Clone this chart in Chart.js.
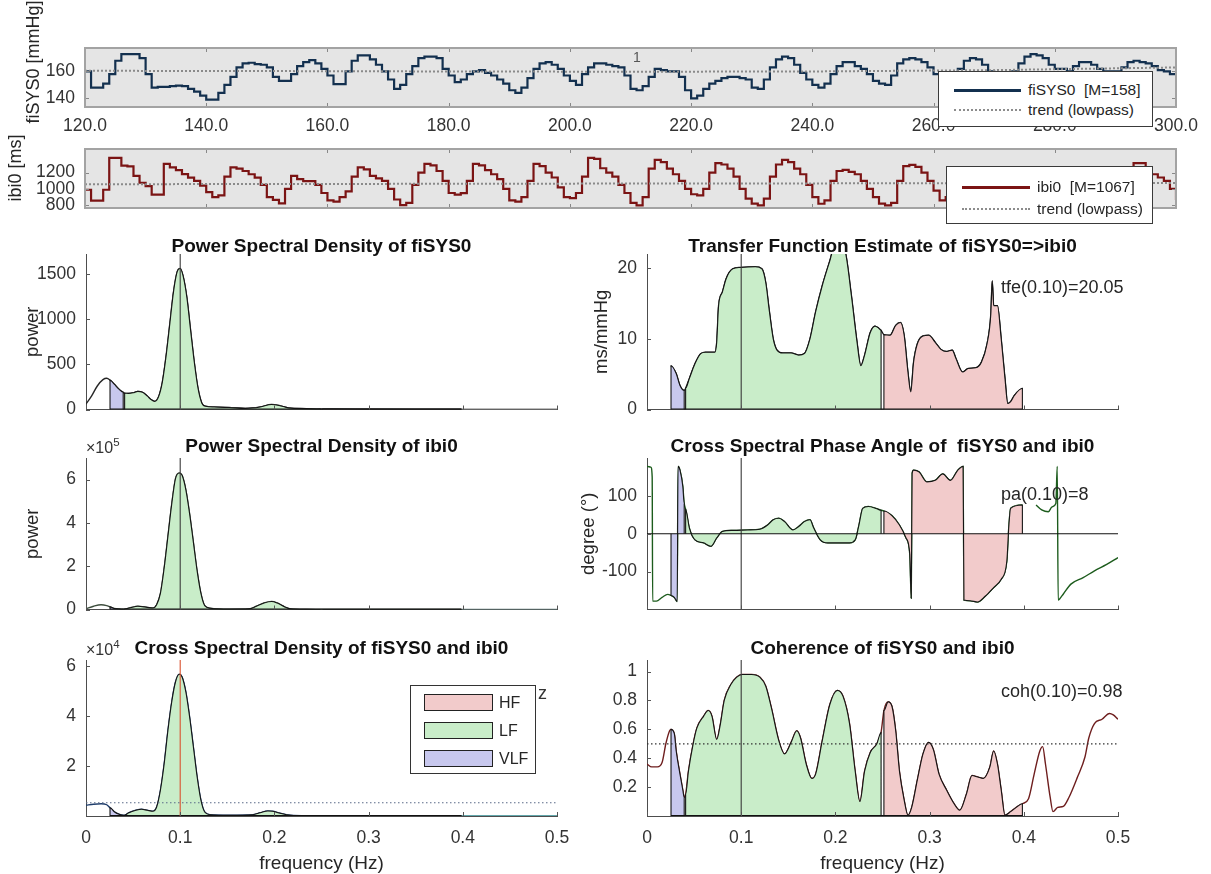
<!DOCTYPE html>
<html><head><meta charset="utf-8">
<script src="https://cdn.jsdelivr.net/npm/chart.js@4.4.1/dist/chart.umd.min.js"></script>
<style>
html,body{margin:0;padding:0;background:#fff;}
body{position:relative;width:1211px;height:874px;overflow:hidden;font-family:"Liberation Sans",Arial,Helvetica,sans-serif;color:#262626;}
canvas{position:absolute;}
.tx{position:absolute;white-space:pre;line-height:1;transform:translateY(-50%);z-index:4;}
.ttl{position:absolute;white-space:pre;font-weight:bold;font-size:19px;color:#111;transform:translate(-50%,-50%);line-height:1;z-index:4;}
.rot{position:absolute;white-space:pre;font-size:18px;transform:translate(-50%,-50%) rotate(-90deg);line-height:1;z-index:4;}
.lg{position:absolute;background:#fff;border:1px solid #3a3a3a;box-sizing:border-box;z-index:5;}
.lg .s{position:absolute;box-sizing:border-box;}
.lg .l{position:absolute;font-size:15.5px;white-space:pre;transform:translateY(-50%);line-height:1;}
</style></head><body>
<canvas id="cSys"></canvas>
<canvas id="cIbi"></canvas>
<canvas id="cPsdSys"></canvas>
<canvas id="cPsdIbi"></canvas>
<canvas id="cCsd"></canvas>
<canvas id="cTfe"></canvas>
<canvas id="cPha"></canvas>
<canvas id="cCoh"></canvas>

<div class="rot" style="left:33px;top:62px">fiSYS0 [mmHg]</div>
<div class="rot" style="left:15px;top:168px">ibi0 [ms]</div>
<div class="tx" style="left:633px;top:57px;font-size:14px;color:#555">1</div>

<div class="lg" style="left:938px;top:71px;width:215px;height:56px">
  <div class="s" style="left:15px;top:17px;width:67px;border-top:3px solid #13304f"></div>
  <div class="l" style="left:89px;top:18px">fiSYS0  [M=158]</div>
  <div class="s" style="left:15px;top:37px;width:67px;border-top:2px dotted #8c8c8c"></div>
  <div class="l" style="left:89px;top:38px">trend (lowpass)</div>
</div>
<div class="lg" style="left:946px;top:166px;width:207px;height:58px">
  <div class="s" style="left:15px;top:19px;width:68px;border-top:3px solid #7b1414"></div>
  <div class="l" style="left:90px;top:20px">ibi0  [M=1067]</div>
  <div class="s" style="left:15px;top:41px;width:68px;border-top:2px dotted #8c8c8c"></div>
  <div class="l" style="left:90px;top:42px">trend (lowpass)</div>
</div>

<div class="ttl" style="left:321.5px;top:245px">Power Spectral Density of fiSYS0</div>
<div class="ttl" style="left:882.5px;top:245px">Transfer Function Estimate of fiSYS0=&gt;ibi0</div>
<div class="ttl" style="left:321.5px;top:445px">Power Spectral Density of ibi0</div>
<div class="ttl" style="left:882.5px;top:445px">Cross Spectral Phase Angle of  fiSYS0 and ibi0</div>
<div class="ttl" style="left:321.5px;top:647px">Cross Spectral Density of fiSYS0 and ibi0</div>
<div class="ttl" style="left:882.5px;top:647px">Coherence of fiSYS0 and ibi0</div>

<div class="tx" style="left:86px;top:448px;font-size:16px;color:#333">×10<span style="font-size:11.5px;position:relative;top:-7px">5</span></div>
<div class="tx" style="left:86px;top:650px;font-size:16px;color:#333">×10<span style="font-size:11.5px;position:relative;top:-7px">4</span></div>
<div class="tx" style="left:538px;top:693px;font-size:18px;color:#333">z</div>

<div class="tx" style="left:1001px;top:287px;font-size:18px">tfe(0.10)=20.05</div>
<div class="tx" style="left:1001px;top:494px;font-size:18px">pa(0.10)=8</div>
<div class="tx" style="left:1001px;top:691px;font-size:18px">coh(0.10)=0.98</div>

<div class="lg" style="left:410px;top:685px;width:126px;height:89px;border-color:#333">
  <div class="s" style="left:13px;top:8px;width:69px;height:17px;background:#F2CBCB;border:1px solid #222"></div>
  <div class="l" style="left:88px;top:16.5px;font-size:16px">HF</div>
  <div class="s" style="left:13px;top:36px;width:69px;height:17px;background:#C9EDC9;border:1px solid #222"></div>
  <div class="l" style="left:88px;top:44.5px;font-size:16px">LF</div>
  <div class="s" style="left:13px;top:64px;width:69px;height:17px;background:#C8C8EE;border:1px solid #222"></div>
  <div class="l" style="left:88px;top:72.5px;font-size:16px">VLF</div>
</div>

<script>
// ---------------- DATA ----------------
const timeTicks = [120,140,160,180,200,220,240,260,280,300];
const sysYTicks = [140,160];
const ibiYTicks = [800,1000,1200];

const seriesTime = [
120,121,122,123,124,125,126,127,128,129,
130,131,132,133,134,135,136,137,138,139,
140,141,142,143,144,145,146,147,148,149,
150,151,152,153,154,155,156,157,158,159,
160,161,162,163,164,165,166,167,168,169,
170,171,172,173,174,175,176,177,178,179,
180,181,182,183,184,185,186,187,188,189,
190,191,192,193,194,195,196,197,198,199,
200,201,202,203,204,205,206,207,208,209,
210,211,212,213,214,215,216,217,218,219,
220,221,222,223,224,225,226,227,228,229,
230,231,232,233,234,235,236,237,238,239,
240,241,242,243,244,245,246,247,248,249,
250,251,252,253,254,255,256,257,258,259,
260,261,262,263,264,265,266,267,268,269,
270,271,272,273,274,275,276,277,278,279,
280,281,282,283,284,285,286,287,288,289,
290,291,292,293,294,295,296,297,298,299,
300];

const sysValues = [
160,148,148,151,158,168,173,173,173,170,
158,148,148.5,148.5,149,149.5,149,147,145,142,
139,139,144,150,156,163,166,166.5,165.5,165,
163,156,153,153,158,164,167,168.5,166,162,
157,150.5,150.5,160,168,172,172,169,165,160,
154,147,150,158,164,170,171,171,170,162,
157,152,154,158,160,161,159,157,154,151,
146,144,148,155,162,166,167,165,162,157,
153,150,158,163,166,166,165,164,163,157,
147,146,149,156,162,161,160,160,156,146,
140,142,147,151,153,155,156,156,155,154,
148,147,154,163,169,171,170,165,159,154,
150,148,151,158,164,167,167,164,162,158,
153,151,150,157,166,169,170,169,167,163,
158,152,150,155,162,168,170,169,165,160,
156,152,154,160,166,171,173,172,170,165,
162,162,160,164,167,167,165,162,160,160,
160,163,167,168,167,166,164,161,160,158,
158];

const ibiValues = [
990,857,857,990,1380,1380,1286,1278,1160,1076,
1034,930,930,1307,1265,1230,1181,1139,1100,1040,
960,899,920,1150,1265,1250,1220,1180,1139,1050,
900,865,823,1000,1160,1120,1097,1097,1050,950,
860,844,900,970,1150,1265,1240,1160,1130,1100,
1000,870,802,830,1050,1200,1307,1290,1220,1100,
950,930,949,1100,1307,1290,1230,1180,1120,1000,
860,844,900,1100,1307,1280,1200,1140,1020,900,
886,950,1150,1380,1370,1254,1200,1150,1050,950,
830,797,900,1250,1357,1330,1250,1180,1100,1000,
935,922,1000,1200,1316,1300,1250,1150,1000,880,
820,797,880,1150,1300,1357,1330,1250,1180,1050,
900,818,860,1100,1220,1233,1210,1180,1100,1000,
900,820,797,830,1100,1280,1295,1270,1200,1100,
980,860,900,1150,1250,1230,1150,1050,930,880,
950,1100,1180,1220,1250,1230,1140,1020,900,870,
950,1080,1180,1220,1250,1180,1080,960,880,900,
1000,1150,1250,1316,1316,1250,1180,1140,1100,1000,
860];

const trendTime = [120,150,180,210,240,270,300];
const sysTrend = [160.5,160.3,160,159.8,160,161,163];
const ibiTrend = [1058,1060,1063,1066,1068,1070,1072];

// spectral data
const freqTicks = [0,0.1,0.2,0.3,0.4,0.5];
const bands = {VLF:[0.0255,0.0395], LF:[0.041,0.2485], HF:[0.2515,0.3985]};
const bandColors = {HF:'#F2CBCB', LF:'#C9EDC9', VLF:'#C8C8EE'};
const markerFreq = 0.1;

const psdSysFreq = [0,0.006,0.012,0.018,0.022,0.0255,0.030,0.035,0.0395,0.041,0.045,0.050,0.055,0.060,0.065,0.069,0.073,0.077,0.081,0.085,0.089,0.093,0.097,0.100,0.103,0.107,0.111,0.115,0.119,0.123,0.127,0.136,0.152,0.169,0.185,0.197,0.205,0.215,0.234,0.2485,0.2515,0.262,0.300,0.350,0.3985,0.450,0.500];
const psdSysPower = [60,150,260,330,345,325,280,225,190,180,178,185,200,190,150,110,90,140,300,590,950,1310,1530,1560,1480,1245,880,520,230,70,36,28,22,12,28,55,45,18,10,6,6,5,4,3,2,2,2];
const psdSysTicks = [0,500,1000,1500];

const psdIbiFreq = [0,0.008,0.016,0.022,0.0255,0.030,0.035,0.0395,0.041,0.047,0.055,0.065,0.071,0.075,0.079,0.083,0.087,0.091,0.095,0.099,0.102,0.106,0.110,0.114,0.118,0.122,0.126,0.132,0.152,0.173,0.181,0.189,0.197,0.203,0.211,0.217,0.234,0.2485,0.2515,0.300,0.3985,0.450,0.500];
const psdIbiPower = [3000,15000,22000,18000,12000,5000,2000,1000,2000,8000,15000,10000,7000,22000,74000,192000,339000,487000,605000,631000,620000,553000,442000,310000,177000,74000,18000,6000,1500,3000,15000,30000,37000,30000,12000,3000,500,300,300,200,100,100,100];
const psdIbiTicks = [0,200000,400000,600000];

const csdFreq = [0,0.008,0.016,0.022,0.0255,0.030,0.035,0.0395,0.041,0.045,0.053,0.059,0.065,0.071,0.075,0.079,0.083,0.087,0.091,0.095,0.099,0.102,0.106,0.110,0.114,0.118,0.122,0.126,0.132,0.152,0.177,0.185,0.193,0.198,0.205,0.217,0.234,0.2485,0.2515,0.300,0.3985,0.450,0.500];
const csdValues = [4300,4700,4900,4500,3300,1700,700,300,300,1200,2300,2700,2300,1900,3600,10300,20900,34300,45600,53600,56700,55600,49600,39600,27600,15600,6300,1600,500,300,500,1300,2000,1900,1200,300,100,100,100,50,30,30,30];
const csdTicks = [20000,40000,60000];
const csdThreshold = 5300;

const tfeFreq = [0.0255,0.031,0.035,0.0395,0.041,0.045,0.051,0.057,0.062,0.072,0.074,0.076,0.080,0.084,0.091,0.099,0.115,0.122,0.126,0.130,0.134,0.138,0.144,0.153,0.161,0.167,0.173,0.179,0.186,0.194,0.200,0.206,0.211,0.217,0.223,0.227,0.231,0.237,0.242,0.246,0.2485,0.2515,0.258,0.264,0.269,0.273,0.277,0.280,0.283,0.287,0.293,0.299,0.306,0.312,0.318,0.324,0.328,0.335,0.341,0.349,0.355,0.361,0.365,0.3665,0.368,0.372,0.376,0.380,0.383,0.386,0.390,0.3985];
const tfeGain = [6.2,5.1,3.4,2.7,3.0,4.4,6.5,7.9,8.1,8.1,9.5,14.7,16.6,18.5,19.9,20.1,20.2,19.9,18.0,13.8,10.0,8.4,8.0,8.0,7.7,7.9,10.0,13.8,17.5,21.0,23.5,23.5,22.0,16.1,9.5,6.2,7.7,10.9,11.8,11.5,11.2,10.6,10.5,11.9,12.3,10.5,5.3,2.5,6.7,9.3,10.4,10.5,9.5,8.5,8.2,8.4,7.2,5.3,5.8,5.9,6.7,9.3,13.5,18.2,14.7,14.7,10.0,4.4,0.85,1.1,2.0,3.0];
const tfeTicks = [0,10,20];

const phaseFreq = [0,0.004,0.0055,0.006,0.010,0.016,0.022,0.0255,0.029,0.031,0.032,0.033,0.035,0.038,0.0395,0.041,0.045,0.051,0.060,0.068,0.074,0.080,0.091,0.107,0.120,0.128,0.134,0.140,0.146,0.155,0.161,0.167,0.173,0.177,0.184,0.192,0.215,0.221,0.225,0.229,0.235,0.244,0.2485,0.2515,0.260,0.268,0.275,0.279,0.2805,0.2815,0.283,0.289,0.297,0.306,0.314,0.322,0.330,0.3355,0.3365,0.343,0.351,0.359,0.368,0.376,0.382,0.384,0.386,0.3985,0.405,0.413,0.419,0.426,0.430,0.434,0.4355,0.4365,0.438,0.442,0.450,0.463,0.475,0.488,0.500];
const phaseDeg = [178,176,150,-178,-178,-168,-160,-163,-168,-176,-179,178,168,125,80,65,15,-16,-24,-33,-11,6,9,10,12,23,37,41,32,10,19,32,37,15,-16,-24,-24,-16,23,67,72,66,62,60,48,23,-11,-55,-170,160,168,163,137,141,158,141,168,178,-175,-177,-180,-165,-142,-120,-72,15,67,76,null,76,63,58,71,80,178,-175,-172,-159,-133,-116,-98,-81,-63];
const phaseTicks = [-100,0,100];

const cohFreq = [0,0.005,0.011,0.016,0.020,0.024,0.0255,0.029,0.031,0.035,0.038,0.0395,0.041,0.044,0.049,0.053,0.060,0.065,0.069,0.074,0.078,0.082,0.089,0.095,0.101,0.111,0.120,0.126,0.132,0.140,0.146,0.153,0.159,0.163,0.169,0.175,0.179,0.186,0.194,0.202,0.208,0.215,0.221,0.226,0.231,0.237,0.244,0.2485,0.2515,0.256,0.260,0.264,0.268,0.273,0.277,0.281,0.287,0.293,0.299,0.304,0.310,0.318,0.326,0.332,0.339,0.345,0.351,0.357,0.364,0.368,0.372,0.376,0.380,0.386,0.392,0.3985,0.405,0.411,0.417,0.420,0.423,0.428,0.431,0.436,0.442,0.448,0.457,0.465,0.469,0.475,0.483,0.491,0.495,0.500];
const cohValues = [0.36,0.34,0.34,0.37,0.50,0.59,0.60,0.57,0.45,0.29,0.18,0.13,0.15,0.31,0.50,0.61,0.69,0.73,0.69,0.53,0.64,0.80,0.91,0.96,0.98,0.98,0.96,0.90,0.75,0.52,0.43,0.51,0.59,0.54,0.36,0.26,0.29,0.52,0.77,0.87,0.83,0.64,0.31,0.10,0.31,0.44,0.50,0.58,0.73,0.79,0.76,0.59,0.31,0.11,0.005,0.06,0.25,0.43,0.51,0.46,0.29,0.18,0.085,0.04,0.15,0.28,0.27,0.26,0.34,0.45,0.36,0.18,0.005,0.03,0.06,0.085,0.12,0.29,0.45,0.48,0.36,0.13,0.03,0.06,0.067,0.13,0.27,0.41,0.54,0.64,0.67,0.71,0.70,0.67];
const cohTicks = [0.2,0.4,0.6,0.8,1];
const cohThreshold = 0.5;

// ---------------- RENDER ----------------
Chart.defaults.font.family = '"Liberation Sans", Arial, Helvetica, sans-serif';
Chart.defaults.color = '#333';

const boxPlugin = {
  id: 'boxPlugin',
  beforeDraw(chart, a, o) {
    if (!o || !o.bg) return;
    const c = chart.ctx, r = chart.chartArea;
    c.save(); c.fillStyle = o.bg; c.fillRect(r.left, r.top, r.right - r.left, r.bottom - r.top); c.restore();
  },
  afterDraw(chart, a, o) {
    if (!o || !o.frame) return;
    const c = chart.ctx, r = chart.chartArea;
    c.save(); c.strokeStyle = o.frame; c.lineWidth = o.frameWidth || 1.5;
    c.strokeRect(r.left, r.top, r.right - r.left, r.bottom - r.top); c.restore();
  }
};
const inTicks = {
  id: 'inTicks',
  afterDatasetsDraw(chart, a, o) {
    if (!o || !o.on) return;
    const c = chart.ctx, r = chart.chartArea, L = o.len || 5;
    const xs = chart.scales.x, ys = chart.scales.y;
    c.save(); c.strokeStyle = o.color || '#555'; c.lineWidth = 1; c.beginPath();
    xs.ticks.forEach(t => { const p = Math.round(xs.getPixelForValue(t.value)) + 0.5;
      c.moveTo(p, r.bottom); c.lineTo(p, r.bottom - L);
      if (o.box) { c.moveTo(p, r.top); c.lineTo(p, r.top + L); } });
    ys.ticks.forEach(t => { const p = Math.round(ys.getPixelForValue(t.value)) + 0.5;
      c.moveTo(r.left, p); c.lineTo(r.left + L, p);
      if (o.box) { c.moveTo(r.right, p); c.lineTo(r.right - L, p); } });
    c.stroke(); c.restore();
  }
};
Chart.register(boxPlugin, inTicks);

function pts(xs, ys) { return xs.map((x, i) => ({x: x, y: ys[i]})); }
function bandData(F, V, lo, hi) {
  const out = [{x: lo, y: 0}];
  for (let i = 0; i < F.length; i++) if (F[i] >= lo - 1e-9 && F[i] <= hi + 1e-9 && V[i] !== null) out.push({x: F[i], y: V[i]});
  out.push({x: hi, y: 0});
  return out;
}
function axis(min, max, tickVals, fmt, show, pad, title, borderOn) {
  return {
    type: 'linear', min: min, max: max,
    afterBuildTicks: s => { s.ticks = tickVals.map(v => ({value: v})); },
    grid: {display: false, drawTicks: false},
    border: {display: borderOn !== false, color: '#4d4d4d', width: 1},
    ticks: {display: show, padding: pad, autoSkip: false, maxRotation: 0, minRotation: 0,
            color: '#333', font: {size: 17.5}, callback: v => fmt(v)},
    title: title || {display: false}
  };
}
function mk(id, rect, area, datasets, xCfg, yCfg, plug) {
  const cv = document.getElementById(id);
  cv.width = rect.w; cv.height = rect.h;
  cv.style.left = rect.x + 'px'; cv.style.top = rect.y + 'px';
  cv.style.width = rect.w + 'px'; cv.style.height = rect.h + 'px';
  const W = area.l - rect.x, T = area.t - rect.y, R = rect.x + rect.w - area.r, H = rect.y + rect.h - area.b;
  xCfg.afterFit = s => { s.height = H; };
  yCfg.afterFit = s => { s.width = W; };
  return new Chart(cv, {
    type: 'line', data: {datasets: datasets},
    options: {
      responsive: false, animation: false, devicePixelRatio: 1, events: [],
      layout: {padding: {left: 0, right: R, top: T, bottom: 0}},
      elements: {point: {radius: 0}, line: {tension: 0}},
      plugins: Object.assign({legend: {display: false}, tooltip: {enabled: false}}, plug || {}),
      scales: {x: xCfg, y: yCfg}
    }
  });
}

// ---- time series ----
const fmt1 = v => v.toFixed(1);
const fmtPlain = v => String(v);
mk('cSys', {x: 0, y: 0, w: 1211, h: 140}, {l: 85, t: 48, r: 1176, b: 107}, [
  {data: pts(trendTime, sysTrend), borderColor: '#8a8a8a', borderWidth: 2, borderDash: [2, 2], order: 1},
  {data: pts(seriesTime, sysValues), borderColor: '#13304f', borderWidth: 2.2, stepped: true, order: 2}
], axis(120, 300, timeTicks, fmt1, true, 9, null, false),
   axis(133.5, 177.5, sysYTicks, fmtPlain, true, 10, null, false),
   {boxPlugin: {bg: '#E5E5E5', frame: '#A3A3A3', frameWidth: 2}, inTicks: {on: true, box: true, len: 4, color: '#888'}});

mk('cIbi', {x: 0, y: 120, w: 1211, h: 120}, {l: 85, t: 149, r: 1176, b: 208}, [
  {data: pts(trendTime, ibiTrend), borderColor: '#8a8a8a', borderWidth: 2, borderDash: [2, 2], order: 1},
  {data: pts(seriesTime, ibiValues), borderColor: '#7b1414', borderWidth: 2.2, stepped: true, order: 2}
], axis(120, 300, timeTicks, fmt1, false, 9, null, false),
   axis(766, 1490, ibiYTicks, fmtPlain, true, 10, null, false),
   {boxPlugin: {bg: '#E5E5E5', frame: '#A3A3A3', frameWidth: 2}, inTicks: {on: true, box: true, len: 4, color: '#888'}});

// ---- spectral ----
function spectral(id, rect, area, o) {
  const ds = [];
  ds.push({data: pts(o.freq, o.vals), borderColor: o.c0, borderWidth: 1.4, order: 10, fill: false, spanGaps: false,
           cubicInterpolationMode: 'monotone',
           segment: {borderColor: c => c.p0.parsed.x >= 0.3985 ? o.c1 : o.c0}});
  for (const name of ['VLF', 'LF', 'HF']) {
    const [lo, hi] = bands[name];
    ds.push({data: bandData(o.freq, o.vals, lo, hi), backgroundColor: bandColors[name], borderColor: '#141414',
             borderWidth: 1.1, fill: 'origin', order: 5, cubicInterpolationMode: 'monotone'});
  }
  if (o.zeroLine) ds.push({data: [{x: 0, y: 0}, {x: 0.5, y: 0}], borderColor: '#111', borderWidth: 1, order: 3});
  else ds.push({data: [{x: bands.VLF[0], y: 0}, {x: bands.HF[1], y: 0}], borderColor: '#111', borderWidth: 2, order: 4});
  ds.push({data: [{x: markerFreq, y: o.ymin}, {x: markerFreq, y: o.ymax}], borderColor: o.markerColor || '#3a3a3a', borderWidth: 1.1, order: 3});
  if (o.threshold !== undefined) ds.push({data: [{x: 0, y: o.threshold}, {x: 0.5, y: o.threshold}], borderColor: o.thColor, borderWidth: 1.2, borderDash: [1.5, 2.5], order: 2});
  const xTitle = o.xTitle ? {display: true, text: o.xTitle, color: '#262626', font: {size: 19, lineHeight: 1}, padding: {top: 0, bottom: 0.5}} : null;
  const yTitle = o.yTitle ? {display: true, text: o.yTitle, color: '#262626', font: {size: 18.5, lineHeight: 1.2}, padding: {top: o.yTitlePad, bottom: 0}} : null;
  return mk(id, rect, area, ds,
    axis(0, 0.5, freqTicks, fmtPlain, !!o.showX, 11.5, xTitle),
    axis(o.ymin, o.ymax, o.yTicks, o.yFmt, true, 10, yTitle),
    {inTicks: {on: true, box: false, len: 4, color: '#555'}});
}

spectral('cPsdSys', {x: 0, y: 226, w: 600, h: 204}, {l: 86, t: 254, r: 557, b: 411},
  {freq: psdSysFreq, vals: psdSysPower, ymin: 0, ymax: 1720, yTicks: psdSysTicks, yFmt: fmtPlain,
   yTitle: 'power', yTitlePad: 21.6, c0: '#262626', c1: '#7c7c7c'});
spectral('cPsdIbi', {x: 0, y: 430, w: 600, h: 200}, {l: 86, t: 458, r: 557, b: 613},
  {freq: psdIbiFreq, vals: psdIbiPower, ymin: 0, ymax: 700000, yTicks: psdIbiTicks, yFmt: v => String(v / 100000),
   yTitle: 'power', yTitlePad: 21.6, c0: '#3e4e3e', c1: '#5f7a78'});
spectral('cCsd', {x: 0, y: 634, w: 600, h: 240}, {l: 86, t: 660, r: 557, b: 816},
  {freq: csdFreq, vals: csdValues, ymin: 0, ymax: 62400, yTicks: csdTicks, yFmt: v => String(v / 10000),
   showX: true, xTitle: 'frequency (Hz)', c0: '#1f3d6b', c1: '#2f8a8f', markerColor: '#D9502E',
   threshold: csdThreshold, thColor: '#5a6a88'});
spectral('cTfe', {x: 570, y: 226, w: 641, h: 204}, {l: 647, t: 254, r: 1118, b: 411},
  {freq: tfeFreq, vals: tfeGain, ymin: 0, ymax: 22, yTicks: tfeTicks, yFmt: fmtPlain,
   yTitle: 'ms/mmHg', yTitlePad: 20.6, c0: '#141414', c1: '#141414'});
spectral('cPha', {x: 570, y: 430, w: 641, h: 200}, {l: 647, t: 458, r: 1118, b: 613},
  {freq: phaseFreq, vals: phaseDeg, ymin: -200, ymax: 200, yTicks: phaseTicks, yFmt: fmtPlain,
   yTitle: 'degree (°)', yTitlePad: 7.6, c0: '#1d5c1d', c1: '#1d5c1d', zeroLine: true});
spectral('cCoh', {x: 570, y: 634, w: 641, h: 240}, {l: 647, t: 660, r: 1118, b: 816},
  {freq: cohFreq, vals: cohValues, ymin: 0, ymax: 1.08, yTicks: cohTicks, yFmt: fmtPlain,
   showX: true, xTitle: 'frequency (Hz)', c0: '#6e1e1e', c1: '#6e1e1e',
   threshold: cohThreshold, thColor: '#333'});
</script>
</body></html>
